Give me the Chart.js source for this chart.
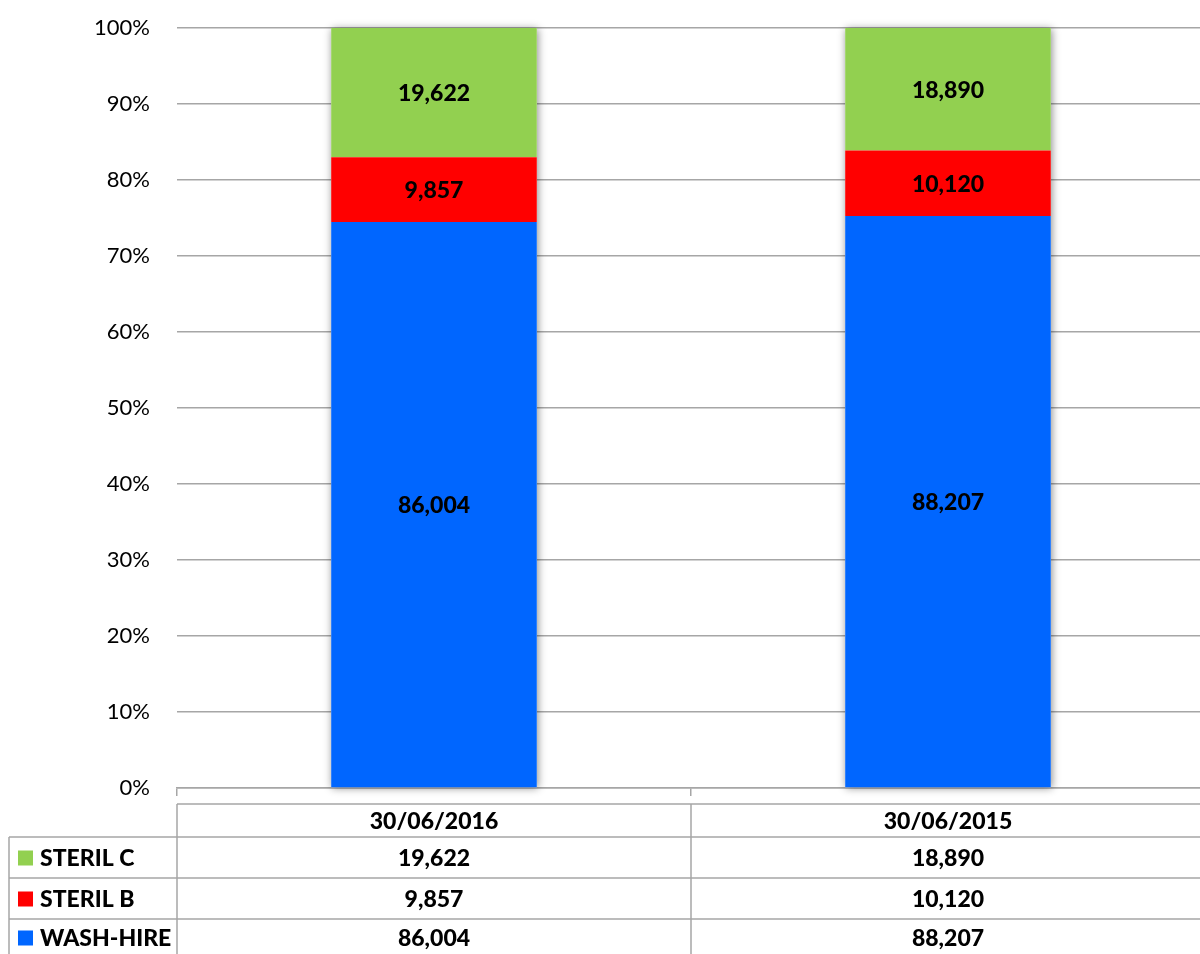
<!DOCTYPE html>
<html lang="en">
<head>
  <meta charset="UTF-8">
  <title>Wash-hire and steril volumes</title>
  <script src="https://cdn.jsdelivr.net/npm/chart.js"></script>
  <style>
    html, body { margin: 0; padding: 0; background: #fff; overflow: hidden; }
    .container { width: 1206px; height: 954px; }
  </style>
</head>
<body>
  <div class="container">
    <canvas id="myChart" width="1206" height="954"></canvas>
  </div>

  <script>
    // chart data
    const categories = ['30/06/2016', '30/06/2015'];
    const washHire = [86004, 88207];
    const sterilB = [9857, 10120];
    const sterilC = [19622, 18890];
    const yTicks = [0, 10, 20, 30, 40, 50, 60, 70, 80, 90, 100];

    const series = [
      { label: 'WASH-HIRE', raw: washHire, color: '#0066FF' },
      { label: 'STERIL B', raw: sterilB, color: '#FF0000' },
      { label: 'STERIL C', raw: sterilC, color: '#92D050' }
    ];

    const totals = categories.map((c, i) => series.reduce((s, d) => s + d.raw[i], 0));
    const fmt = v => v.toLocaleString('en-US');
    const FONT = 'Lato, "DejaVu Sans", sans-serif';
    const BOLD = '900 23px ' + FONT;
    const LINE = '#A6A6A6';

    // soft shadow behind each stacked bar
    const barShadow = {
      id: 'barShadow',
      beforeDatasetsDraw(chart) {
        const ctx = chart.ctx;
        const metas = chart.getSortedVisibleDatasetMetas();
        categories.forEach((c, i) => {
          let top = Infinity, base = 0, x = 0, w = 0;
          metas.forEach(m => {
            const el = m.data[i];
            top = Math.min(top, el.y);
            base = Math.max(base, el.base);
            x = el.x; w = el.width;
          });
          ctx.save();
          ctx.shadowColor = 'rgba(0,0,0,0.45)';
          ctx.shadowBlur = 8;
          ctx.shadowOffsetX = 1;
          ctx.shadowOffsetY = 1;
          ctx.fillStyle = '#fff';
          ctx.fillRect(x - w / 2, top, w, base - top);
          ctx.restore();
        });
      }
    };

    // raw values in the middle of each segment
    const segLabels = {
      id: 'segLabels',
      afterDatasetsDraw(chart) {
        const ctx = chart.ctx;
        ctx.save();
        ctx.font = BOLD;
        ctx.fillStyle = '#000';
        ctx.textAlign = 'center';
        ctx.textBaseline = 'middle';
        chart.getSortedVisibleDatasetMetas().forEach(m => {
          const ds = series[m.index];
          m.data.forEach((el, i) => {
            ctx.fillText(fmt(ds.raw[i]), el.x, (el.y + el.base) / 2 + 1);
          });
        });
        ctx.restore();
      }
    };

    // data table under the plot
    const dataTable = {
      id: 'dataTable',
      afterDraw(chart) {
        const ctx = chart.ctx;
        const x = chart.scales.x;
        const left = chart.chartArea.left;
        const right = chart.chartArea.right;
        const mid = (x.getPixelForValue(0) + x.getPixelForValue(1)) / 2;
        const tableLeft = 9;
        const rowTops = [804, 837, 878, 919, 962];

        ctx.save();
        ctx.strokeStyle = LINE;
        ctx.lineWidth = 1.5;
        ctx.beginPath();
        // horizontal lines
        ctx.moveTo(left, rowTops[0]); ctx.lineTo(right, rowTops[0]);
        for (let r = 1; r < rowTops.length; r++) {
          ctx.moveTo(tableLeft, rowTops[r]); ctx.lineTo(right, rowTops[r]);
        }
        // vertical lines
        ctx.moveTo(tableLeft, rowTops[1]); ctx.lineTo(tableLeft, 954);
        ctx.moveTo(left, rowTops[0]); ctx.lineTo(left, 954);
        ctx.moveTo(mid, rowTops[0]); ctx.lineTo(mid, 954);
        ctx.moveTo(right, rowTops[0]); ctx.lineTo(right, 954);
        ctx.stroke();

        ctx.fillStyle = '#000';
        ctx.font = BOLD;
        ctx.textBaseline = 'middle';
        ctx.textAlign = 'center';
        categories.forEach((c, i) => {
          ctx.fillText(c, x.getPixelForValue(i), (rowTops[0] + rowTops[1]) / 2 + 1);
        });

        // rows listed top-down: last series first
        const rows = series.slice().reverse();
        rows.forEach((s, r) => {
          const cy = (rowTops[r + 1] + rowTops[r + 2]) / 2 + (r === 2 ? -3 : 0);
          ctx.fillStyle = s.color;
          ctx.fillRect(18, cy - 7, 15, 15);
          ctx.fillStyle = '#000';
          ctx.textAlign = 'left';
          ctx.fillText(s.label, 40, cy + 1);
          ctx.textAlign = 'center';
          categories.forEach((c, i) => {
            ctx.fillText(fmt(s.raw[i]), x.getPixelForValue(i), cy + 1);
          });
        });
        ctx.restore();
      }
    };

    const ctx = document.getElementById('myChart').getContext('2d');
    const myChart = new Chart(ctx, {
      type: 'bar',
      data: {
        labels: categories,
        datasets: series.map(s => ({
          label: s.label,
          data: s.raw.map((v, i) => v / totals[i] * 100),
          backgroundColor: s.color,
          borderWidth: 0,
          categoryPercentage: 1,
          barPercentage: 0.4
        }))
      },
      options: {
        responsive: false,
        animation: false,
        layout: { padding: { left: 0, top: 28, right: 1, bottom: 0 } },
        plugins: {
          legend: { display: false },
          tooltip: { enabled: false }
        },
        scales: {
          x: {
            stacked: true,
            offset: true,
            ticks: { display: false },
            grid: {
              offset: true,
              drawOnChartArea: false,
              drawTicks: true,
              tickLength: 8,
              color: LINE,
              lineWidth: 1.5
            },
            border: { display: true, color: LINE, width: 1.5 },
            afterFit(scale) { scale.height = 166; }
          },
          y: {
            stacked: true,
            min: 0,
            max: 100,
            afterBuildTicks(scale) { scale.ticks = yTicks.map(v => ({ value: v })); },
            ticks: {
              padding: 27,
              color: '#000',
              font: { family: FONT, size: 22 },
              callback: v => v + '%'
            },
            grid: { color: LINE, lineWidth: 1.5, drawTicks: false },
            border: { display: false },
            afterFit(scale) {
              scale.width = 177;
              scale.paddingTop = 0;
              scale.paddingBottom = 0;
            }
          }
        }
      },
      plugins: [barShadow, segLabels, dataTable]
    });
  </script>
</body>
</html>
